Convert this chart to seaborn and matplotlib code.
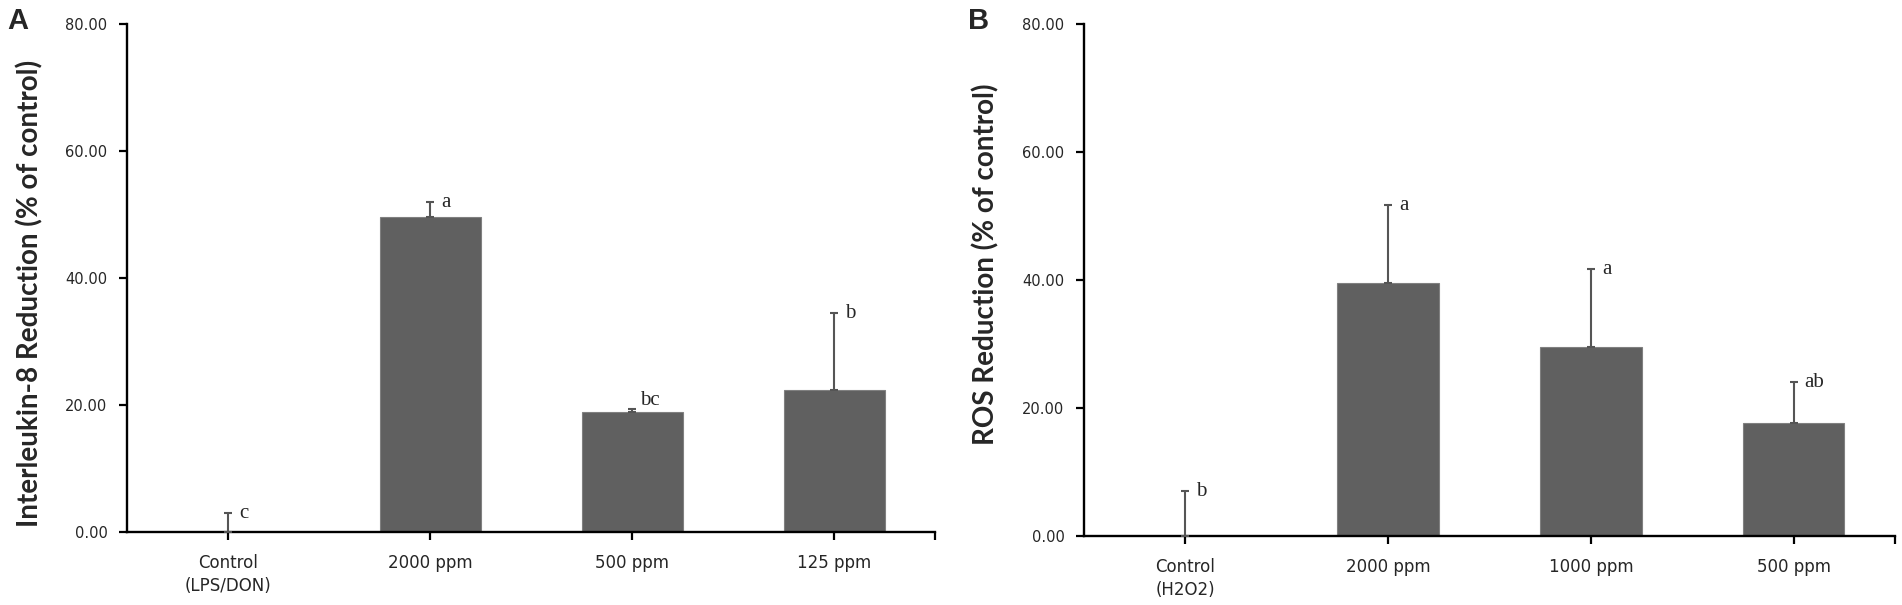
import numpy as np
import pandas as pd
import matplotlib
matplotlib.use("Agg")
import matplotlib.pyplot as plt
import seaborn as sns

# panel A: IL-8
il8_groups = ["Control\n(LPS/DON)", "2000 ppm", "500 ppm", "125 ppm"]
il8_mean = [0.0, 49.6, 18.9, 22.4]
il8_err = [3.0, 2.3, 0.4, 12.1]
il8_letters = ["c", "a", "bc", "b"]

# panel B: ROS
ros_groups = ["Control\n(H2O2)", "2000 ppm", "1000 ppm", "500 ppm"]
ros_mean = [0.0, 39.6, 29.6, 17.7]
ros_err = [7.0, 12.1, 12.1, 6.3]
ros_letters = ["b", "a", "a", "ab"]

BAR = "#606060"
ERR = "#555555"
W, H = 1902, 605

sns.set_style("ticks")
plt.rcParams["font.family"] = ["DejaVu Sans"]

fig = plt.figure(figsize=(W / 100, H / 100), dpi=100)
ax_a = fig.add_axes([127 / W, 1 - 532 / H, 808 / W, 508 / H])
ax_b = fig.add_axes([1084 / W, 1 - 536 / H, 811 / W, 512 / H])


def draw_panel(ax, groups, means, errs, letters, ylabel, tag, label_y, tag_x):
    df = pd.DataFrame({"group": groups, "value": means})
    sns.barplot(data=df, x="group", y="value", color=BAR, width=0.5,
                saturation=1, edgecolor="#808080", linewidth=0.8, ax=ax)
    xs = np.arange(len(groups))
    ax.errorbar(xs, means, yerr=[np.zeros(len(errs)), errs], fmt="none",
                ecolor=ERR, elinewidth=1.5, capsize=3.2, capthick=1.5, zorder=3)
    for x, m, e, lab in zip(xs, means, errs, letters):
        # letter sits just right of the cap; tiny error bars get it above
        off = (6, 3) if e < 1 else (8, -3.5)
        ax.annotate(lab, (x, m + e), xytext=off, textcoords="offset points",
                    ha="left", va="baseline", fontsize=15,
                    family="Liberation Serif")

    ax.set_xlim(-0.5, len(groups) - 0.5)
    ax.set_ylim(0, 80)
    ax.set_yticks([0, 20, 40, 60, 80])
    ax.set_yticklabels([f"{v:.2f}" for v in [0, 20, 40, 60, 80]], fontsize=10.5)
    ax.set_xticks(xs)
    ax.set_xticklabels(groups, fontsize=12, linespacing=1.35)
    ax.set_xticks([len(groups) - 0.5], minor=True)
    ax.tick_params(axis="both", which="both", direction="out", length=6,
                   width=1.6, color="black")
    ax.tick_params(axis="y", pad=8)
    ax.tick_params(axis="x", which="both", pad=10)
    ax.set_xlabel("")
    ax.set_ylabel(ylabel, fontsize=20, fontweight="bold", family="Lato")
    ax.yaxis.set_label_coords(-84 / 808, label_y)
    for s in ["top", "right"]:
        ax.spines[s].set_visible(False)
    for s in ["left", "bottom"]:
        ax.spines[s].set_linewidth(1.7)
        ax.spines[s].set_color("black")
    ax.set_facecolor("white")
    ax.text(tag_x, 1.005, tag, transform=ax.transAxes, fontsize=21,
            fontweight="bold", family="Liberation Sans", ha="left", va="center")


draw_panel(ax_a, il8_groups, il8_mean, il8_err, il8_letters,
           "Interleukin-8 Reduction (% of control)", "A", 0.47, -0.148)
draw_panel(ax_b, ros_groups, ros_mean, ros_err, ros_letters,
           "ROS Reduction (% of control)", "B", 0.53, -0.143)

fig.savefig("out.png", dpi=100, facecolor="white")
